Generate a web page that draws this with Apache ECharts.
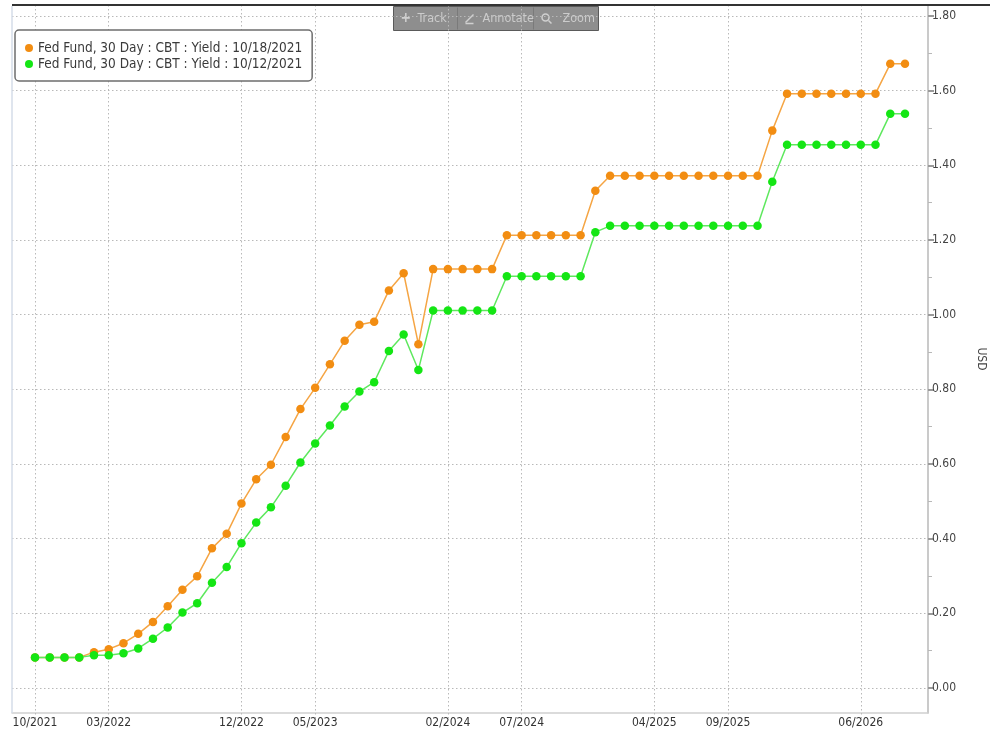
<!DOCTYPE html>
<html>
<head>
<meta charset="utf-8">
<script src="https://cdn.jsdelivr.net/npm/echarts@6/dist/echarts.min.js"></script>
<style>
  html, body { margin: 0; padding: 0; background: #fff; }
  #chart { width: 990px; height: 732px; }
</style>
</head>
<body>
<div id="chart"></div>
<script>
// monthly contracts, 10/2021 .. 09/2026
const months = [
  '10/2021', '11/2021', '12/2021', '01/2022', '02/2022', '03/2022', '04/2022', '05/2022', '06/2022', '07/2022',
  '08/2022', '09/2022', '10/2022', '11/2022', '12/2022', '01/2023', '02/2023', '03/2023', '04/2023', '05/2023',
  '06/2023', '07/2023', '08/2023', '09/2023', '10/2023', '11/2023', '12/2023', '01/2024', '02/2024', '03/2024',
  '04/2024', '05/2024', '06/2024', '07/2024', '08/2024', '09/2024', '10/2024', '11/2024', '12/2024', '01/2025',
  '02/2025', '03/2025', '04/2025', '05/2025', '06/2025', '07/2025', '08/2025', '09/2025', '10/2025', '11/2025',
  '12/2025', '01/2026', '02/2026', '03/2026', '04/2026', '05/2026', '06/2026', '07/2026', '08/2026', '09/2026',
];
const yield1018 = [
  0.082, 0.082, 0.082, 0.082, 0.096, 0.104, 0.120, 0.145, 0.177, 0.219,
  0.263, 0.299, 0.374, 0.413, 0.494, 0.559, 0.598, 0.672, 0.747, 0.804,
  0.867, 0.930, 0.973, 0.981, 1.065, 1.111, 0.921, 1.122, 1.122, 1.122,
  1.122, 1.122, 1.213, 1.213, 1.213, 1.213, 1.213, 1.213, 1.332, 1.372,
  1.372, 1.372, 1.372, 1.372, 1.372, 1.372, 1.372, 1.372, 1.372, 1.372,
  1.493, 1.592, 1.592, 1.592, 1.592, 1.592, 1.592, 1.592, 1.672, 1.672,
];
const yield1012 = [
  0.082, 0.082, 0.082, 0.082, 0.088, 0.088, 0.093, 0.106, 0.132, 0.162,
  0.202, 0.227, 0.282, 0.324, 0.388, 0.443, 0.484, 0.542, 0.604, 0.655,
  0.703, 0.754, 0.794, 0.819, 0.903, 0.947, 0.852, 1.011, 1.011, 1.011,
  1.011, 1.011, 1.103, 1.103, 1.103, 1.103, 1.103, 1.103, 1.221, 1.238,
  1.238, 1.238, 1.238, 1.238, 1.238, 1.238, 1.238, 1.238, 1.238, 1.238,
  1.356, 1.455, 1.455, 1.455, 1.455, 1.455, 1.455, 1.455, 1.538, 1.538,
];
const xTickMonths = ['10/2021', '03/2022', '12/2022', '05/2023', '02/2024', '07/2024', '04/2025', '09/2025', '06/2026'];
const yTicks = [0, 0.2, 0.4, 0.6, 0.8, 1.0, 1.2, 1.4, 1.6, 1.8];
const yMinorTicks = [0.1, 0.3, 0.5, 0.7, 0.9, 1.1, 1.3, 1.5, 1.7];

const FONT = '"DejaVu Sans Condensed", "DejaVu Sans", sans-serif';
const xTickIdx = xTickMonths.map((m) => months.indexOf(m));
const GRID_LINE = { color: '#b9b9b9', type: [1.5, 2.5], width: 1 };

const chart = echarts.init(document.getElementById('chart'), null, { renderer: 'canvas' });

const option = {
  backgroundColor: '#fff',
  animation: false,
  grid: {
    left: 12,
    right: 62,
    top: 5,
    bottom: 19,
    containLabel: false,
    outerBoundsMode: 'none',
  },
  legend: {
    orient: 'vertical',
    left: 15,
    top: 30,
    padding: [11, 10, 10, 10],
    itemGap: 2,
    itemWidth: 8,
    itemHeight: 8,
    icon: 'circle',
    backgroundColor: '#fff',
    borderColor: '#6e6e6e',
    borderWidth: 1.5,
    borderRadius: 4,
    textStyle: { fontFamily: FONT, fontSize: 13.5, lineHeight: 14, color: '#3a3a3a' },
    data: ['Fed Fund, 30 Day : CBT : Yield : 10/18/2021', 'Fed Fund, 30 Day : CBT : Yield : 10/12/2021'],
  },
  xAxis: {
    type: 'value',
    min: -1.56,
    max: 60.56,
    axisLine: { show: true, onZero: false, lineStyle: { color: '#cfcfcf', width: 1.5 } },
    axisTick: {
      show: true,
      length: 5,
      customValues: xTickIdx,
      lineStyle: { color: '#b9b9b9', type: [1.5, 2.5] },
    },
    axisLabel: {
      customValues: xTickIdx,
      margin: 4,
      fontFamily: FONT,
      fontSize: 12,
      color: '#333',
      formatter: (v) => months[Math.round(v)] || '',
    },
    splitLine: { show: true, lineStyle: GRID_LINE },
  },
  yAxis: [
    {
      type: 'value',
      position: 'right',
      min: -0.067,
      max: 1.8295,
      name: 'USD',
      nameLocation: 'middle',
      nameRotate: -90,
      nameGap: 47,
      nameTextStyle: { fontFamily: FONT, fontSize: 12, color: '#444' },
      axisLine: { show: true, onZero: false, lineStyle: { color: '#b8b8b8', width: 1.5 } },
      axisTick: { show: true, length: 6, customValues: yTicks, lineStyle: { color: '#9a9a9a', width: 2 } },
      axisLabel: {
        customValues: yTicks,
        margin: 4,
        fontFamily: FONT,
        fontSize: 12,
        color: '#444',
        formatter: (v) => v.toFixed(2),
      },
      splitLine: { show: true, lineStyle: GRID_LINE },
    },
    {
      type: 'value',
      position: 'right',
      min: -0.067,
      max: 1.8295,
      axisLine: { show: false, onZero: false },
      axisTick: { show: true, length: 4, customValues: yMinorTicks, lineStyle: { color: '#b8b8b8', width: 1 } },
      axisLabel: { show: false },
      splitLine: { show: false },
    },
  ],
  graphic: [
    // plot frame: left edge and top rule
    { type: 'line', shape: { x1: 12, y1: 6, x2: 12, y2: 713 }, style: { stroke: '#d4dde8', lineWidth: 1.5 }, z: 100 },
    { type: 'line', shape: { x1: 12, y1: 5, x2: 990, y2: 5 }, style: { stroke: '#333', lineWidth: 2 }, z: 100 },
    // toolbar
    {
      type: 'group',
      left: 393,
      top: 5,
      z: 100,
      children: [
        { type: 'rect', shape: { x: 0, y: 0, width: 205, height: 24 }, style: { fill: '#8e8e8e', stroke: '#5a5a5a', lineWidth: 1 } },
        { type: 'line', shape: { x1: 64, y1: 1, x2: 64, y2: 23 }, style: { stroke: '#7a7a7a', lineWidth: 1 } },
        { type: 'line', shape: { x1: 140, y1: 1, x2: 140, y2: 23 }, style: { stroke: '#7a7a7a', lineWidth: 1 } },
        { type: 'text', x: 7, y: 12, style: { text: '+', fill: '#d0d0d0', font: 'bold 14px ' + FONT, verticalAlign: 'middle' } },
        { type: 'text', x: 24, y: 12, style: { text: 'Track', fill: '#cccccc', font: '12.5px ' + FONT, verticalAlign: 'middle' } },
        { type: 'line', shape: { x1: 72, y1: 16, x2: 80, y2: 8 }, style: { stroke: '#d0d0d0', lineWidth: 1.5 } },
        { type: 'line', shape: { x1: 72, y1: 17, x2: 80, y2: 17 }, style: { stroke: '#d0d0d0', lineWidth: 1.5 } },
        { type: 'text', x: 89, y: 12, style: { text: 'Annotate', fill: '#cccccc', font: '12.5px ' + FONT, verticalAlign: 'middle' } },
        { type: 'circle', shape: { cx: 152, cy: 11, r: 3.5 }, style: { fill: 'none', stroke: '#d0d0d0', lineWidth: 1.5 } },
        { type: 'line', shape: { x1: 155, y1: 14, x2: 158, y2: 17 }, style: { stroke: '#d0d0d0', lineWidth: 1.5 } },
        { type: 'text', x: 169, y: 12, style: { text: 'Zoom', fill: '#cccccc', font: '12.5px ' + FONT, verticalAlign: 'middle' } },
      ],
    },
  ],
  series: [
    {
      name: 'Fed Fund, 30 Day : CBT : Yield : 10/18/2021',
      type: 'line',
      data: months.map((m, i) => [i, yield1018[i]]),
      symbol: 'circle',
      symbolSize: 8.5,
      showAllSymbol: true,
      itemStyle: { color: '#f28d12' },
      lineStyle: { color: '#f5a544', width: 1.5 },
      z: 3,
    },
    {
      name: 'Fed Fund, 30 Day : CBT : Yield : 10/12/2021',
      type: 'line',
      data: months.map((m, i) => [i, yield1012[i]]),
      symbol: 'circle',
      symbolSize: 8.5,
      showAllSymbol: true,
      itemStyle: { color: '#14e614' },
      lineStyle: { color: '#5ee85e', width: 1.5 },
      z: 4,
    },
  ],
};

chart.setOption(option);
</script>
</body>
</html>
